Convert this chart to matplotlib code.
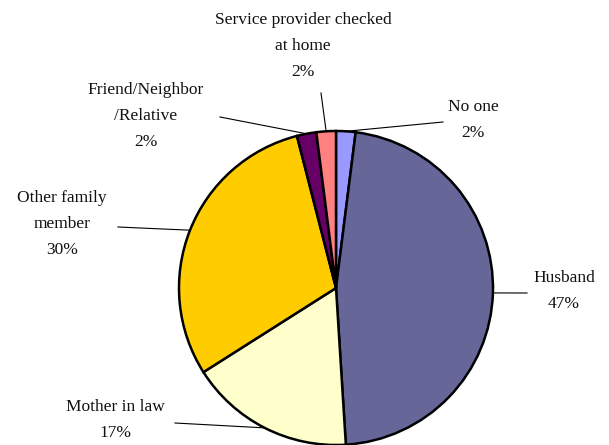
import numpy as np
import matplotlib
matplotlib.use("Agg")
import matplotlib.pyplot as plt

# Who checked on the respondent (share of responses)
labels = ["No one", "Husband", "Mother in law", "Other family\nmember",
          "Friend/Neighbor\n/Relative", "Service provider checked\nat home"]
values = [2, 47, 17, 30, 2, 2]
colors = ["#9999FF", "#666699", "#FFFFCC", "#FFCC00", "#660066", "#FF8080"]

# text block centres and the label end of each leader line (pixel space)
label_pos = [(473, 325), (564, 154), (115, 25), (62, 221), (146, 329), (303, 399)]
leader_end = [(443, 323), (527, 152), (175, 22), (118, 218), (220, 328), (321, 352)]

W, H = 609, 445
fig = plt.figure(figsize=(W / 100, H / 100), dpi=100)
ax = fig.add_axes([0, 0, 1, 1])

cx, cy, r = 336, 157, 157
wedges, _ = ax.pie(values, colors=colors, startangle=90, counterclock=False,
                   radius=r, center=(cx, cy),
                   wedgeprops=dict(edgecolor="black", linewidth=1.8))

ax.set_xlim(0, W)
ax.set_ylim(0, H)
ax.set_aspect("equal")
ax.axis("off")

for w, lab, val, pos, end in zip(wedges, labels, values, label_pos, leader_end):
    mid = np.deg2rad((w.theta1 + w.theta2) / 2)
    ex, ey = cx + r * np.cos(mid), cy + r * np.sin(mid)
    ax.plot([end[0], ex], [end[1], ey], color="black", lw=0.8, zorder=0.5)
    ax.text(pos[0], pos[1], f"{lab}\n{val}%", ha="center", va="center",
            fontsize=12.5, family="Liberation Serif", linespacing=1.85,
            color="#111111")

fig.savefig("out.png", dpi=100)
